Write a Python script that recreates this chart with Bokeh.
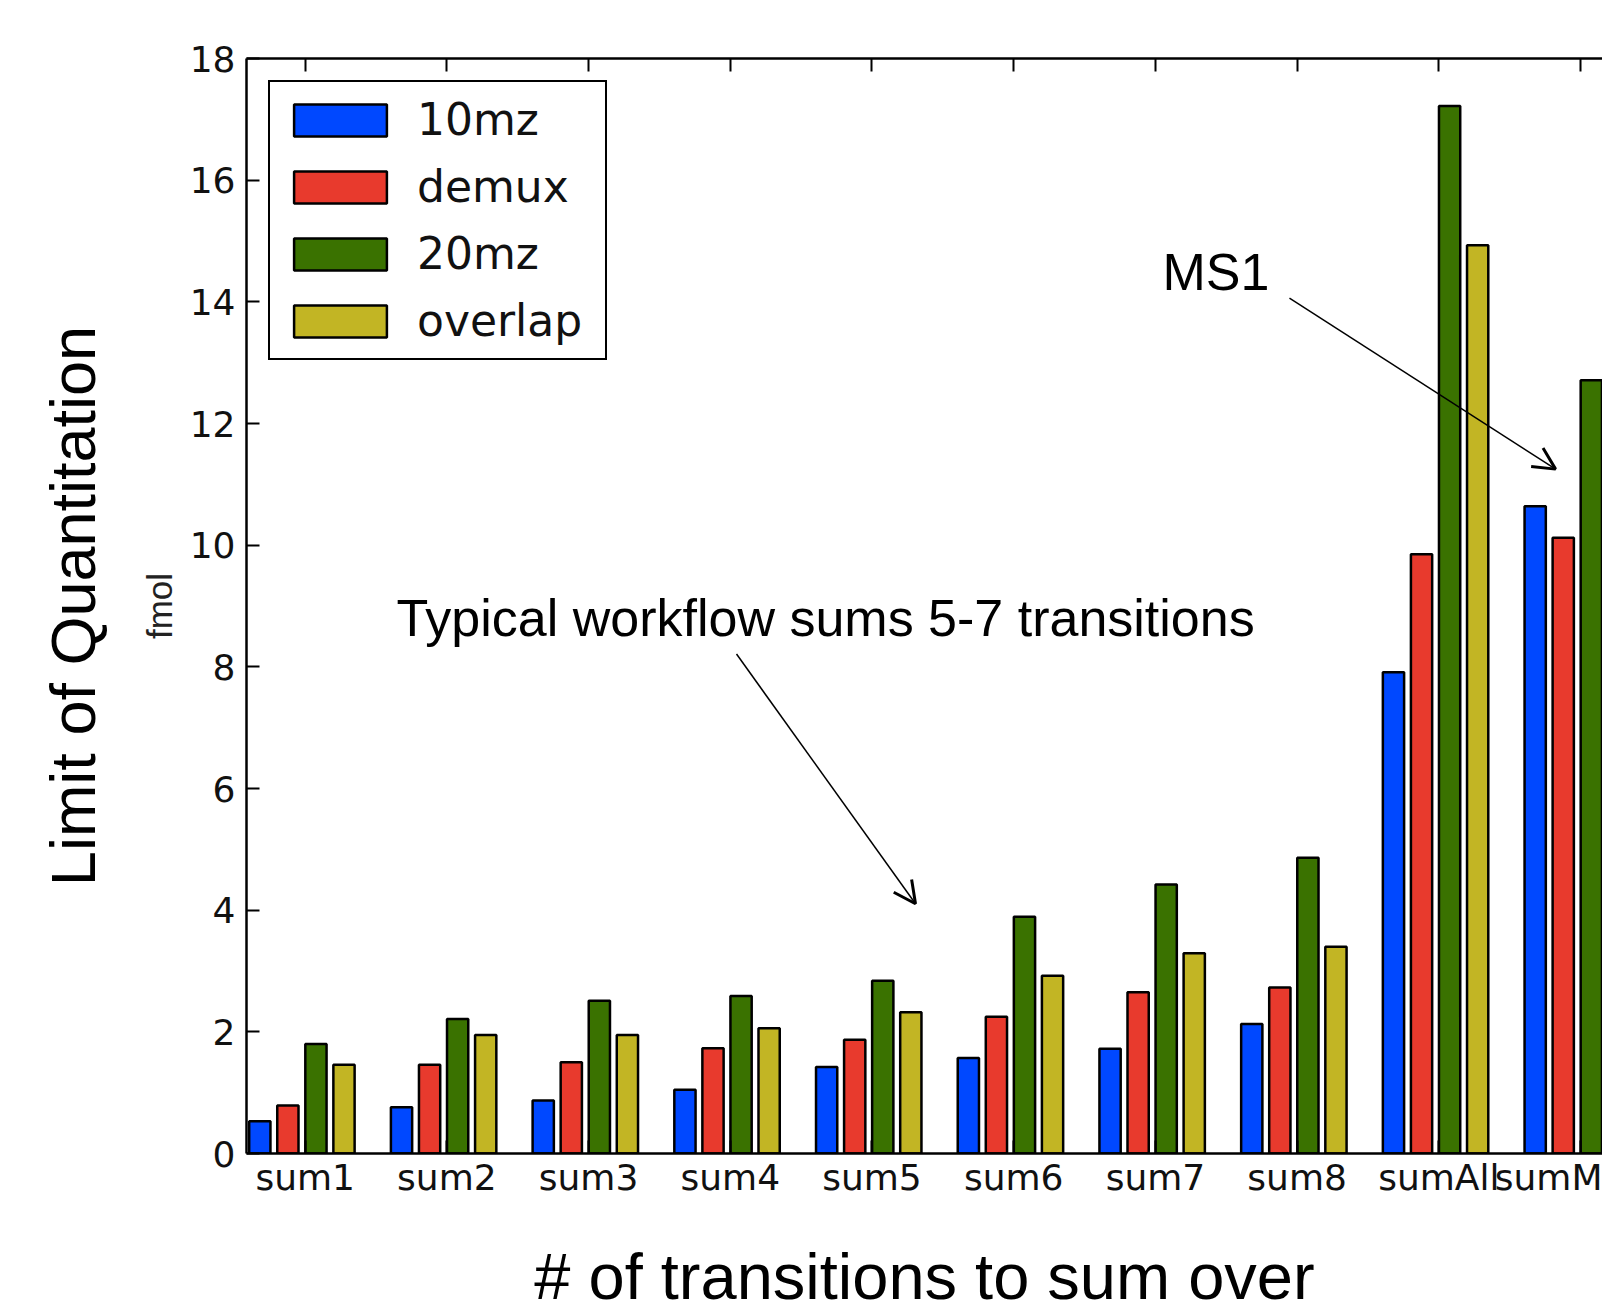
import numpy as np
from bokeh.plotting import figure
from bokeh.models import Range1d, LinearAxis, FixedTicker, Label, Arrow, OpenHead
from bokeh.embed import file_html
from bokeh.resources import INLINE

# ---- data ----
categories = ["sum1", "sum2", "sum3", "sum4", "sum5", "sum6", "sum7", "sum8", "sumAll", "sumMS1"]
# the last tick label is cut off at the picture's right edge in the reference
tick_labels = ["sum1", "sum2", "sum3", "sum4", "sum5", "sum6", "sum7", "sum8", "sumAll", "sumM"]
series_names = ["10mz", "demux", "20mz", "overlap"]
mz10 = [0.53, 0.76, 0.87, 1.05, 1.42, 1.57, 1.72, 2.13, 7.91, 10.64]
demux = [0.79, 1.46, 1.50, 1.73, 1.87, 2.25, 2.65, 2.73, 9.85, 10.12]
mz20 = [1.80, 2.21, 2.51, 2.59, 2.84, 3.89, 4.42, 4.86, 17.22, 12.71]
overlap = [1.46, 1.95, 1.95, 2.06, 2.32, 2.92, 3.29, 3.40, 14.93, float("nan")]
y_ticks = [0, 2, 4, 6, 8, 10, 12, 14, 16, 18]

colors = ["#0048FF", "#E83A2D", "#3A7200", "#C2B524"]
series = [mz10, demux, mz20, overlap]
bar_w = 0.15
offsets = [-0.32, -0.122, 0.076, 0.274]

p = figure(width=1602, height=1315, output_backend="svg", toolbar_location=None,
           x_range=Range1d(-0.414, 9.155), y_range=Range1d(0, 18),
           x_axis_type=None, y_axis_type=None,
           min_border_left=246, min_border_top=58, min_border_right=0, min_border_bottom=161)
p.outline_line_color = None
p.background_fill_color = "white"
p.border_fill_color = "white"

idx = np.arange(len(categories))
for name, vals, col, off in zip(series_names, series, colors, offsets):
    p.vbar(x=idx + off, top=vals, bottom=0, width=bar_w, fill_color=col,
           line_color="black", line_width=2.5, legend_label=name)

tick_font = "DejaVu Sans"
ann_font = "Liberation Sans"

yaxis = LinearAxis(ticker=FixedTicker(ticks=y_ticks), axis_label="fmol")
xaxis = LinearAxis(ticker=FixedTicker(ticks=list(range(len(categories)))),
                   major_label_overrides={i: c for i, c in enumerate(tick_labels)},
                   axis_label="# of transitions to sum over")
topaxis = LinearAxis(ticker=FixedTicker(ticks=list(range(len(categories)))),
                     major_label_overrides={i: "" for i in range(len(categories))})
for ax in (yaxis, xaxis, topaxis):
    ax.major_tick_in = 13
    ax.major_tick_out = 0
    ax.minor_tick_in = 0
    ax.minor_tick_out = 0
    ax.axis_line_width = 2.5
    ax.axis_line_color = "black"
    ax.major_tick_line_width = 2
    ax.major_tick_line_color = "black"
    ax.major_label_text_font = tick_font
    ax.major_label_text_font_size = "36px"
    ax.major_label_text_color = "#111111"
yaxis.major_label_standoff = 11
yaxis.axis_label_standoff = 8
yaxis.axis_label_text_font = ann_font
yaxis.axis_label_text_font_size = "35px"
yaxis.axis_label_text_font_style = "normal"
yaxis.axis_label_text_color = "#222222"
xaxis.major_label_standoff = 3
xaxis.axis_label_standoff = 39
xaxis.axis_label_text_font = ann_font
xaxis.axis_label_text_font_size = "65px"
xaxis.axis_label_text_font_style = "normal"
xaxis.axis_label_text_color = "black"
topaxis.major_label_text_color = None
topaxis.major_label_standoff = 0

# outer left axis carrying only the big title of the y axis
outer = LinearAxis(ticker=FixedTicker(ticks=[]), axis_label="Limit of Quantitation")
outer.axis_line_color = None
outer.major_tick_in = 0
outer.major_tick_out = 0
outer.minor_tick_in = 0
outer.minor_tick_out = 0
outer.major_label_standoff = 0
outer.axis_label_standoff = 29
outer.axis_label_text_font = ann_font
outer.axis_label_text_font_size = "63px"
outer.axis_label_text_font_style = "normal"
outer.axis_label_text_color = "black"

p.add_layout(yaxis, "left")
p.add_layout(outer, "left")
p.add_layout(xaxis, "below")
p.add_layout(topaxis, "above")

lg = p.legend[0]
lg.location = "top_left"
lg.margin = 22
lg.padding = 12
lg.spacing = 16
lg.glyph_width = 116
lg.glyph_height = 40
lg.label_standoff = 19
lg.label_width = 176
lg.label_height = 50
lg.label_text_font = tick_font
lg.label_text_font_size = "44px"
lg.label_text_color = "#111111"
lg.border_line_color = "black"
lg.border_line_alpha = 1.0
lg.border_line_width = 2
lg.background_fill_color = "white"
lg.background_fill_alpha = 1.0

p.add_layout(Label(x=0.644, y=8.80, text="Typical workflow sums 5-7 transitions",
                   text_font=ann_font, text_font_size="52px", text_color="black",
                   text_align="left", text_baseline="alphabetic"))
p.add_layout(Label(x=6.050, y=14.49, text="MS1",
                   text_font=ann_font, text_font_size="52px", text_color="black",
                   text_align="left", text_baseline="alphabetic"))

p.add_layout(Arrow(end=OpenHead(size=22, line_width=3, line_color="black"),
                   x_start=3.044, y_start=8.21, x_end=4.307, y_end=4.106,
                   line_width=1.5, line_color="black"))
p.add_layout(Arrow(end=OpenHead(size=22, line_width=3, line_color="black"),
                   x_start=6.946, y_start=14.06, x_end=8.824, y_end=11.25,
                   line_width=1.5, line_color="black"))

open("out.html", "w").write(file_html(p, INLINE))
